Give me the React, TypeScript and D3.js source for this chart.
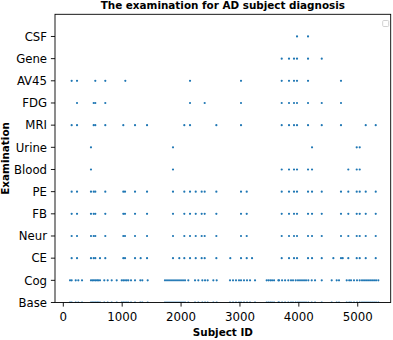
import * as d3 from "d3";

// exam categories, bottom to top
const EXAMS = ["Base", "Cog", "CE", "Neur", "FB", "PE", "Blood", "Urine", "MRI", "FDG", "AV45", "Gene", "CSF"];
const X_TICKS = [0, 1000, 2000, 3000, 4000, 5000];

// subject ids per exam
const COG = [114, 142, 211, 255, 318, 470, 496, 521, 547, 572, 594, 623, 696, 754, 822, 907, 992, 1019, 1048, 1077, 1104, 1150, 1218, 1308, 1342, 1433, 1727, 1761, 1795, 1829, 1863, 1897, 1931, 1965, 1999, 2033, 2067, 2123, 2237, 2293, 2361, 2407, 2452, 2548, 2605, 2831, 2882, 2933, 2984, 3018, 3069, 3120, 3171, 3256, 3454, 3485, 3516, 3545, 3579, 3652, 3664, 3715, 3766, 3821, 3867, 3901, 3947, 3986, 4020, 4054, 4088, 4122, 4161, 4219, 4275, 4389, 4558, 4643, 4682, 4813, 4855, 4886, 4937, 4988, 5034, 5073, 5107, 5141, 5175, 5209, 5243, 5277, 5311, 5350];
const BASE = [114, 142, 211, 255, 318, 470, 496, 521, 547, 572, 594, 623, 696, 754, 822, 907, 992, 1019, 1048, 1077, 1104, 1150, 1218, 1308, 1342, 1433, 1727, 1761, 1795, 1829, 1863, 1897, 1931, 1965, 1999, 2033, 2067, 2123, 2237, 2293, 2361, 2407, 2452, 2548, 2605, 2831, 2882, 2933, 2984, 3018, 3069, 3120, 3171, 3256, 3454, 3485, 3516, 3545, 3579, 3652, 3664, 3715, 3766, 3821, 3867, 3901, 3947, 3986, 4020, 4054, 4088, 4122, 4161, 4219, 4275, 4389, 4558, 4643, 4682, 4813, 4855, 4886, 4937, 4988, 5034, 5073, 5107, 5141, 5175, 5209, 5243, 5277, 5311, 5350];
const CE = [142, 233, 470, 516, 543, 623, 713, 1019, 1048, 1218, 1314, 1422, 1863, 1970, 2055, 2152, 2249, 2350, 2401, 2599, 2836, 3018, 3115, 3205, 3709, 3833, 3918, 3969, 4156, 4224, 4389, 4586, 4716, 4745, 4840, 4983, 5034, 5136, 5306];
const NEUR = [142, 233, 470, 516, 543, 713, 1019, 1048, 1218, 1422, 1863, 2055, 2152, 2249, 2350, 2401, 2599, 3018, 3115, 3709, 3833, 3918, 3969, 4156, 4224, 4389, 4716, 4840, 4983, 5034, 5136, 5306];
const FB = [142, 233, 470, 516, 543, 713, 1019, 1048, 1218, 1422, 1863, 2055, 2152, 2249, 2350, 2401, 2599, 3018, 3115, 3709, 3833, 3918, 3969, 4156, 4224, 4389, 4716, 4840, 4983, 5034, 5136, 5306];
const PE = [142, 233, 470, 516, 543, 713, 1019, 1048, 1218, 1422, 1863, 2055, 2152, 2249, 2350, 2401, 2599, 3018, 3115, 3709, 3833, 3918, 3969, 4156, 4224, 4389, 4716, 4840, 4983, 5034, 5136, 5306];
const BLOOD = [470, 1863, 3709, 3833, 3918, 3969, 4156, 4224, 4840, 4983, 5034];
const URINE = [470, 1863, 4224, 4983, 5034];
const MRI = [142, 233, 516, 543, 713, 1019, 1218, 1422, 2055, 2152, 2599, 3018, 3709, 3833, 3918, 3969, 4156, 4389, 4716, 5136, 5306];
const FDG = [233, 516, 543, 713, 2152, 2401, 3018, 3709, 3833, 3918, 3969, 4156, 4389, 4716];
const AV45 = [142, 233, 543, 713, 1053, 2152, 3018, 3709, 3833, 3918, 3969, 4156, 4716];
const GENE = [3709, 3833, 3918, 3969, 4156, 4389];
const CSF = [3969, 4156];

const SERIES = [BASE, COG, CE, NEUR, FB, PE, BLOOD, URINE, MRI, FDG, AV45, GENE, CSF];

const W = 393;
const H = 340;
const margin = { left: 55, right: 2.3, top: 14.3, bottom: 37.5 };
const FONT = "'DejaVu Sans', sans-serif";

export default function App() {
	const x = d3.scaleLinear().domain([-141, 5560]).range([margin.left, W - margin.right]);
	const y = d3.scaleLinear().domain([0, 13]).range([H - margin.bottom, margin.top]);
	const [x0, x1] = x.range();
	const [yb, yt] = y.range();

	const points = SERIES.flatMap((ids, i) => ids.map((id) => ({ id, row: i })));

	return (
		<svg width={W} height={H} style={{ position: "absolute", left: 0, top: 0, background: "#fff" }} fontFamily={FONT}>
			<defs>
				<clipPath id="plot">
					<rect x={x0} y={yt} width={x1 - x0} height={yb - yt} />
				</clipPath>
			</defs>

			{/* title */}
			<text x={(x0 + x1) / 2} y={9} textAnchor="middle" fontSize={10.4} fontWeight="bold">
				The examination for AD subject diagnosis
			</text>

			{/* points */}
			<g clipPath="url(#plot)">
				{points.map((p, i) => (
					<circle key={i} cx={x(p.id)} cy={y(p.row)} r={1.1} fill="#1f77b4" />
				))}
			</g>

			{/* y axis */}
			{EXAMS.map((name, i) => (
				<g key={name}>
					<line x1={x0 - 4.1} x2={x0} y1={y(i)} y2={y(i)} stroke="#000" strokeWidth={0.9} />
					<text x={x0 - 8} y={y(i) + 4.3} textAnchor="end" fontSize={11.7} fill="#000">
						{name}
					</text>
				</g>
			))}

			{/* x axis */}
			{X_TICKS.map((t) => (
				<g key={t}>
					<line x1={x(t)} x2={x(t)} y1={yb} y2={yb + 4.1} stroke="#000" strokeWidth={0.9} />
					<text x={x(t)} y={321} textAnchor="middle" fontSize={11.8} fill="#000">
						{t}
					</text>
				</g>
			))}

			{/* frame */}
			<rect x={x0} y={yt} width={x1 - x0} height={yb - yt} fill="none" stroke="#000" strokeWidth={0.9} />

			{/* empty legend box */}
			<rect x={382.7} y={20.5} width={6} height={6} rx={1} fill="#fff" stroke="#ccc" strokeWidth={0.9} />

			{/* axis labels */}
			<text x={(x0 + x1) / 2} y={336} textAnchor="middle" fontSize={10.4} fontWeight="bold">
				Subject ID
			</text>
			<text
				transform={`translate(8.5, ${(yt + yb) / 2}) rotate(-90)`}
				textAnchor="middle"
				fontSize={10.4}
				fontWeight="bold"
			>
				Examination
			</text>
		</svg>
	);
}
